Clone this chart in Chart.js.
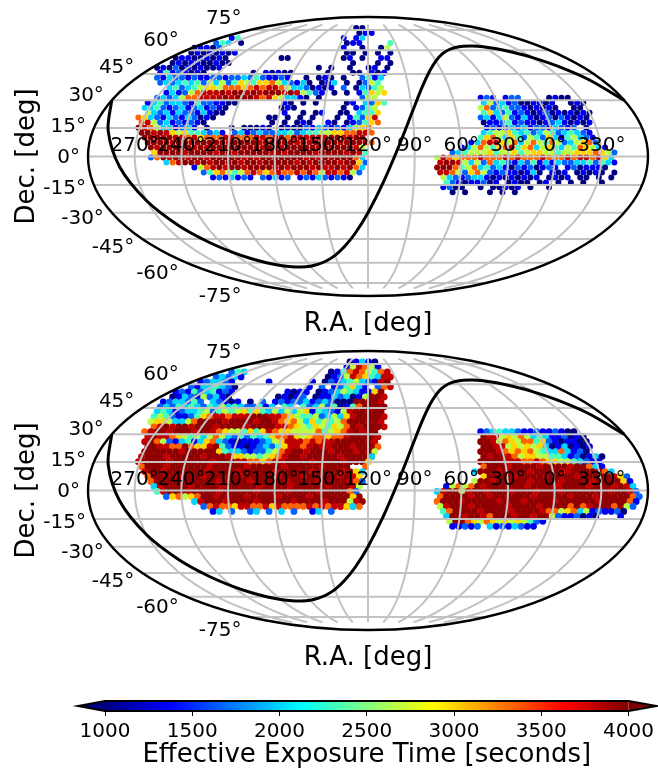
<!DOCTYPE html>
<html>
<head>
<meta charset="utf-8">
<style>
body { margin: 0; background: #fff; width: 658px; height: 771px; overflow: hidden; }
canvas { position: absolute; left: 0; }
</style>
<script src="https://cdn.jsdelivr.net/npm/chart.js@4"></script>
</head>
<body>
<canvas id="mapTop" width="658" height="340" style="top:0"></canvas>
<canvas id="mapBottom" width="658" height="340" style="top:334px"></canvas>
<canvas id="colorBar" width="658" height="91" style="top:680px"></canvas>
<script>
const raTicks = [270, 240, 210, 180, 150, 120, 90, 60, 30, 0, 330];
const decTicks = [75, 60, 45, 30, 15, 0, -15, -30, -45, -60, -75];
const barTicks = [1000, 1500, 2000, 2500, 3000, 3500, 4000];

// galactic plane read along the map, R.A. then Dec.
const planeRa = [300, 290, 280, 270, 260, 250, 240, 230, 220, 210, 200, 190, 180, 170, 160, 150, 140, 130, 120, 110, 100, 90, 80, 70, 60, 50, 40, 30, 20, 10, 0, -10, -20, -30, -40, -50, -60];
const planeDec = [29.9, 13.6, -5.6, -23.5, -37.2, -46.6, -53, -57.3, -60.1, -61.8, -62.7, -62.9, -62.3, -60.9, -58.6, -55.1, -49.7, -41.7, -29.9, -13.6, 5.6, 23.5, 37.2, 46.6, 53, 57.3, 60.1, 61.8, 62.7, 62.9, 62.3, 60.9, 58.6, 55.1, 49.7, 41.7, 29.9];

// exposure maps: one string per map row, "column:levels", level is an index in exposureLevels
const exposureLevels = [1000, 1333, 1667, 2000, 2333, 2667, 3000, 3333, 3800, 3950];
const rowLat = [82.9, 79.7, 76.5, 73.3, 70.1, 66.9, 63.6, 60.4, 57.2, 54, 50.8, 47.6, 44.4, 41.1, 37.9, 34.7, 31.5, 28.3, 25.1, 21.9, 18.6, 15.4, 12.2, 9, 5.8, 2.6, -0.6, -3.9, -7.1, -10.3, -13.5, -16.7, -19.9, -23.1];

const topRows = [
	"35:00",
	"35:011",
	"15:14 33:1 35:13",
	"12:243 16:0 33:01 35:1 40:4",
	"9:01102 33:1 36:0 39:0 40:5",
	"8:01010101 33:00 36:0 38:0 40:0",
	"6:011001010 23:00 33:01 36:0 39:1 40:1",
	"5:0101100100 34:0 38:0 40:0",
	"3:01020101001 29:0 31:0 34:0 37:01 40:0",
	"3:14121010 18:0 20:10 22:10 24:0 30:0 34:00 37:102 39:1",
	"3:2 4:132 7:21 9:2112 13:2 14:1 15:2 16:23 18:24 20:213 22:12 24:1 27:0 29:01 31:0 33:0 36:24 38:13",
	"3:232 6:34 8:3425 12:352 15:46 17:5 18:46 20:67 22:532 25:13 27:0 29:01 31:3 33:0 35:0 36:25 38:4",
	"5:3423 9:45 11:66 13:577 16:76 18:7878 22:87 24:53 26:32 28:01 30:0 31:1 33:2 35:0 36:3 37:24 39:5",
	"4:1312 8:5788 12:8989 16:9898 20:9998 24:9 25:85 27:42 29:1 31:0 33:0 35:1 36:46 38:56",
	"3:2323 7:5778 11:88 13:8989 17:9987 21:86 23:53 25:31 27:0 29:0 36:25 38:5 55:12 57:1 59:12 61:2 66:01 68:00",
	"1:1 2:34 4:233 7:2142 11:21 13:10 15:0 23:10 26:0 28:0 33:01 36:325 38:64 55:35 57:23 59:120 62:01 64:1 65:01 69:010",
	"1:3 2:3421 6:231 9:23 11:12 13:1 14:0 23:01 25:0 33:0 35:1 36:246 38:5 55:572 58:342 61:21 63:01 65:0 66:10 70:00",
	"1:5 2:3 3:23 5:132 8:213 11:10 13:0 23:1 26:0 28:0 29:1 32:0 33:0 35:34 37:46 55:463 58:24 60:121 63:0 64:12 66:0 67:1 68:0 69:1 70:010",
	"0:7 1:63 3:2 4:13 6:21 8:32 10:01 12:0 21:0 22:0 24:0 26:0 28:0 32:0 34:14 36:25 37:68 55:231 58:35 60:213 63:10 65:12 67:021 70:0 71:10",
	"0:78 2:52 4:3 5:12 7:1 8:21 10:0 21:0 23:0 25:01 27:0 30:10 33:01 35:2 36:46 38:7 55:012 57:1 58:24 60:121 63:1 64:0 65:1 66:23 68:101 71:01",
	"0:9 1:87 3:53 5:31 7:23 9:1 11:0 15:0 17:00 19:01 21:0 23:010 26:02 28:13 30:21 32:21 34:3 35:56 37:7 56:12 58:1 59:23 61:2 62:3 63:12 65:21 67:32 69:1 70:2 72:0",
	"0:9 1:989 4:86 6:5 7:64 9:43 11:23 13:1 15:23 17:12 19:32 21:23 23:3 24:42 26:34 28:45 30:56 32:67 34:78 36:87 55:3 56:45 58:5 59:64 61:3 62:42 64:35 66:42 68:3 69:43 71:2 72:1",
	"1:99 3:98 5:98 7:87 9:86 11:77 13:78 15:87 17:77 19:88 21:78 23:8 24:78 26:88 28:88 30:89 32:98 34:89 36:8 55:4 56:67 58:53 60:6 61:42 63:5 64:4 65:26 67:31 69:4 70:5 71:32 73:1",
	"1:9 2:9998 6:9989 10:9999 14:8999 18:9899 22:9998 26:9899 30:9989 34:9 35:987 53:1 54:3 55:788 58:6 59:57 61:3 62:5 63:75 65:4 66:7 67:52 69:35 71:67 73:2",
	"2:9899 6:9998 10:9899 14:9999 18:9989 22:9899 26:9998 30:9899 34:985 52:1 53:3 54:57 56:54 58:6 59:78 61:4 62:67 64:35 66:64 68:3 69:54 71:76 73:53 75:1",
	"2:6 3:999 6:9899 10:9989 14:9899 18:9998 22:9899 26:9989 30:9998 34:984 50:2 51:3 52:45 54:55 56:64 58:5 59:56 61:4 62:56 64:65 66:5 67:45 69:56 71:6 72:67 74:65 76:2",
	"2:2 3:798 6:9989 10:9899 14:9998 18:9899 22:9999 26:9898 30:9899 34:973 48:5 49:87 51:6 52:77 54:78 56:77 58:78 60:78 62:77 64:78 66:77 68:78 70:78 72:87 74:86 76:3",
	"4:3 5:7 6:89 8:98 10:9899 14:9989 18:9899 22:9998 26:9899 30:9989 34:962 48:89 50:98 52:5 53:3 54:52 56:73 58:42 60:13 62:24 64:1 65:31 67:32 69:23 71:34 73:2 74:43 76:1",
	"9:1 10:57 12:8 13:98 15:9989 19:9998 23:9899 27:9898 31:8989 35:73 48:99 50:97 52:4 53:57 55:34 57:2 58:31 60:02 62:1 63:2 64:01 66:2 67:1 69:1 70:2 71:01 73:1 74:10",
	"10:24 12:675 15:4 16:5787 20:6787 24:7 25:8787 29:5 30:8878 34:52 48:88 50:75 52:2 53:67 55:52 57:1 58:21 60:1 61:0 62:1 63:3 64:0 66:1 67:0 68:1 70:0 71:1 72:01 74:0 76:0",
	"12:12 14:13 16:121 20:213 23:12 26:1 27:2 28:13 30:2 31:12 33:10 49:53 51:2 52:1 53:23 55:31 57:0 58:1 59:01 61:0 62:1 63:0 64:1 66:01 68:0 69:1 71:0 72:0 74:0 76:0",
	"49:4 50:2 51:1 52:01 54:12 56:0 57:1 59:0 60:10 62:0 64:0 65:1 67:0 69:0 71:0 74:0",
	"49:1 50:2 51:0 52:0 55:0 57:0 58:01 60:0 61:1 63:0 66:0",
	"50:0 52:0 56:0 58:0 60:0"
];

const bottomRows = [
	"34:01 36:3 37:10",
	"33:1 34:5 35:87 37:51",
	"15:243 31:0 32:1 33:4 34:78 36:7 37:54 39:78",
	"12:23 14:23 16:1 30:01 32:2 33:58 35:76 37:43 39:88",
	"10:1 11:23 13:32 15:1 21:1 28:1 30:021 33:3 34:45 36:321 39:89",
	"8:2 9:13 11:3 12:43 14:2 15:0 27:1 29:2 31:1 32:2 33:46 35:3 36:1 38:2 39:78",
	"6:1 7:2 8:14 10:23 12:412 15:1 24:1 25:01 27:1 29:012 32:3 33:5 34:4 35:3 36:1 37:12 38:6 39:9",
	"5:0 6:13 8:2 9:15 11:2 12:31 14:0 22:0 23:10 25:1 26:2 28:01 30:1 31:3 32:2 33:3 34:0 35:1 36:5 37:9 38:9 39:8",
	"4:1 5:23 7:32 9:4 10:2 12:3 13:21 15:0 16:1 18:0 20:2 22:12 24:12 26:23 28:1 29:2 30:32 32:0 33:0 34:0 35:9 36:999 39:8",
	"3:2 4:3 5:24 7:34 9:3 10:24 12:35 14:3 15:4 16:32 18:24 20:1 21:3 23:4 24:3 26:42 28:3 29:5 30:24 32:0 33:1 34:4 35:7 36:9999",
	"3:3 4:43 6:12 8:3 9:3 10:45 12:2 13:4 14:5 15:4 16:56 18:46 20:43 22:5 23:3 24:5 25:3 26:56 28:1 29:43 31:2 32:1 33:5 34:8 35:99 37:99 39:9",
	"2:4 3:5 4:4 5:21 7:12 9:45 10:6 11:78 13:87 15:88 17:89 19:99 21:88 23:76 25:54 27:45 29:2 30:35 32:3 33:6 34:89 36:999 39:8",
	"2:5 3:66 5:54 6:32 7:3 8:56 9:78 10:99 12:99 14:89 16:99 18:98 20:99 22:87 24:6 25:75 27:36 29:45 31:4 32:5 33:7 34:99 36:99 38:9 39:8",
	"2:7 3:89 5:89 7:98 9:99 11:98 13:99 15:99 17:89 19:99 21:98 23:8 24:76 26:54 28:65 30:46 32:5 33:7 34:98 36:99 38:98",
	"1:7 2:89 4:98 6:99 8:98 10:99 12:87 14:65 16:54 18:64 20:6 21:87 23:6 24:65 26:55 28:57 30:45 32:6 33:7 34:89 36:89 38:9 55:1 56:2 57:3 58:4 59:33 61:2 62:1 63:12 65:1 66:12 68:1 69:0 70:0",
	"1:8 2:98 4:87 6:65 8:45 10:3 11:56 12:76 13:54 14:34 15:23 16:43 17:23 18:45 19:32 20:43 21:6 22:77 24:86 26:56 28:77 30:67 32:78 34:99 36:99 38:8 55:98 57:8 58:5 59:65 61:7 62:5 63:34 65:31 67:12 69:01 71:0",
	"1:8 2:97 4:5 5:21 7:34 9:1 10:3 11:6 12:75 13:3 14:21 15:10 16:01 17:1 18:12 19:1 20:23 21:3 22:5 23:68 25:88 27:78 29:78 31:89 33:99 35:99 37:98 55:99 57:8 58:5 59:76 61:5 62:77 64:4 65:6 66:21 68:01 70:10 72:0",
	"1:9 2:98 4:87 6:79 8:76 10:6 11:8 12:97 13:4 14:21 15:10 16:1 17:01 18:1 19:21 20:3 21:2 22:4 23:6 24:88 26:78 28:98 30:89 32:99 34:89 36:99 38:7 55:9 56:98 58:85 60:6 61:56 63:5 64:6 65:3 66:0 67:1 68:3 69:0 70:1 71:01",
	"1:9 2:99 4:99 6:98 8:99 10:99 12:98 13:6 14:43 16:32 18:12 20:24 22:5 23:7 24:89 26:98 28:99 30:98 32:99 34:98 36:99 38:5 55:9 56:99 58:87 60:6 61:76 63:75 65:43 67:3 68:7 69:3 70:1 71:2 72:0",
	"0:8 1:99 3:98 5:99 7:99 9:98 11:99 13:99 14:86 16:65 18:54 20:56 22:7 23:8 24:99 26:89 28:99 30:99 32:89 34:99 36:98 37:3 55:9 56:89 58:98 60:7 61:56 63:6 64:5 65:54 67:43 69:1 70:2 71:0 72:13 74:0",
	"0:8 1:99 3:99 5:89 7:99 9:99 11:98 13:99 15:98 17:87 19:76 21:78 23:89 25:99 27:98 29:99 31:99 33:89 35:99 37:6 55:9 56:99 58:98 60:88 62:7 63:78 65:76 67:65 69:5 70:4 71:3 72:2 73:1 74:1",
	"0:7 1:999899999989999989999989999989999 36:7 55:7 56:9998999989999899 72:7 73:3 74:1",
	"1:8 2:99899999989999899999899999899998 34:96 36:3 54:3 55:99989999899998899999 75:7 76:3",
	"1:7 2:9999899989999989999989998999998 33:98 35:6 55:6 56:9999899998999989999 75:98 77:6 78:2",
	"2:7 3:999989999989999899999899998999 33:987 36:2 54:5 55:99899999899998999989 75:999 78:6 79:1",
	"2:3 3:899998999989999989999899999899 33:985 49:1 50:575 53:7 54:9899999989999899998 73:9998 77:98 79:3",
	"3:4 4:89998999989999989999899998999 33:97 35:2 48:3 49:89987 52:5 53:8 54:9989998999899989999 73:99989 78:98 80:2",
	"4:2 5:6 6:7 7:5 8:6 9:7 10:99899998999989999899999899 33:96 48:7 49:999989 55:9899999989999989 71:9989999 78:97 80:2",
	"9:3 10:8 11:99989999899999899998999989 33:95 48:7 49:999899 55:9998999899998999 71:9998999 78:97 80:1",
	"10:2 11:7 12:877688778687777878787877 32:86 34:3 48:5 49:899989 55:9999899998999979 71:7899979 78:52",
	"12:13 15:2 18:23 21:2 23:3 25:2 28:13 31:2 49:4 50:79999 55:8999989999 65:8 66:7 67:7 68:5 69:67 71:3 72:51 74:21 76:1 77:2 78:0",
	"49:3 50:99899 55:8799989989 65:9 66:5 67:21 69:12 71:01 73:0 77:1",
	"50:5 51:997 54:6 55:5 56:7 57:656 60:565 63:4 64:2 65:1",
	"50:1 51:12 53:1 54:2 56:31 58:2 59:13 61:21 63:1"
];

const font = "'DejaVu Sans'";
const gridColor = "#c2c2c2";

function jet(v) {
	const t = Math.min(1, Math.max(0, (v - 1000) / 3000));
	const c = f => Math.round(255 * Math.min(1, Math.max(0, f)));
	return "rgb(" + c(Math.min(4 * t - 1.5, -4 * t + 4.5)) + "," + c(Math.min(4 * t - 0.5, -4 * t + 3.5)) + "," + c(Math.min(4 * t + 0.5, -4 * t + 2.5)) + ")";
}

// mollweide, returns map units: x -180..180, y -90..90, centred on R.A. 120
function project(ra, dec) {
	const lat = dec * Math.PI / 180;
	let th = lat;
	for (let i = 0; i < 60; i++) {
		const d = 2 * Math.cos(2 * th) + 2;
		if (d < 1e-6) break;
		th -= (2 * th + Math.sin(2 * th) - Math.PI * Math.sin(lat)) / d;
	}
	return { x: -(ra - 120) * Math.cos(th), y: 90 * Math.sin(th) };
}

function rowsToPoints(rows) {
	const pts = [];
	rows.forEach((row, k) => {
		row.split(" ").forEach(tok => {
			const parts = tok.split(":");
			for (let j = 0; j < parts[1].length; j++) {
				// odd rows sit half a column over
				pts.push({ x: -147.6 + (Number(parts[0]) + j) * 4 + (k % 2) * 2, y: rowLat[k], v: exposureLevels[Number(parts[1][j])] });
			}
		});
	});
	return pts;
}

function tracePath(ctx, chart, pts) {
	const sx = chart.scales.x, sy = chart.scales.y;
	pts.forEach((p, i) => {
		const px = sx.getPixelForValue(p.x), py = sy.getPixelForValue(p.y);
		if (i === 0) ctx.moveTo(px, py); else ctx.lineTo(px, py);
	});
}

const graticulePlugin = {
	id: "graticule",
	afterDatasetDraw(chart, args) {
		if (args.index !== 1) return;
		const ctx = chart.ctx;
		ctx.save();
		ctx.strokeStyle = gridColor;
		ctx.lineWidth = 2;
		raTicks.forEach(ra => {
			const line = [];
			for (let d = -80; d <= 80; d += 4) line.push(project(ra > 300 ? ra - 360 : ra, d));
			ctx.beginPath();
			tracePath(ctx, chart, line);
			ctx.stroke();
		});
		decTicks.forEach(dec => {
			ctx.beginPath();
			tracePath(ctx, chart, [project(300, dec), project(-60, dec)]);
			ctx.stroke();
		});
		ctx.restore();
	},
	afterDatasetsDraw(chart) {
		const ctx = chart.ctx, sx = chart.scales.x, sy = chart.scales.y;
		const a = chart.chartArea;
		ctx.save();
		ctx.strokeStyle = "#000";
		ctx.lineWidth = 2.4;
		ctx.beginPath();
		ctx.ellipse((a.left + a.right) / 2, (a.top + a.bottom) / 2, (a.right - a.left) / 2, (a.bottom - a.top) / 2, 0, 0, Math.PI * 2);
		ctx.stroke();
		ctx.fillStyle = "#000";
		ctx.font = "20px " + font;
		ctx.textAlign = "center";
		ctx.textBaseline = "alphabetic";
		raTicks.forEach(ra => {
			const p = project(ra > 300 ? ra - 360 : ra, 0);
			ctx.fillText(ra + "°", sx.getPixelForValue(p.x), sy.getPixelForValue(p.y) - 6);
		});
		ctx.textAlign = "right";
		ctx.textBaseline = "middle";
		decTicks.forEach(dec => {
			const p = project(300, dec);
			ctx.fillText(dec + "°", sx.getPixelForValue(p.x) - 8, sy.getPixelForValue(p.y) - dec / 6 + 1);
		});
		ctx.restore();
	}
};

function makeMap(id, rows, radius) {
	const pts = rowsToPoints(rows);
	const plane = planeRa.map((ra, i) => project(ra, planeDec[i]));
	new Chart(document.getElementById(id), {
		type: "scatter",
		data: {
			datasets: [{
				data: plane,
				showLine: true,
				borderColor: "#000",
				borderWidth: 3,
				pointRadius: 0,
				tension: 0.3
			}, {
				data: pts,
				pointRadius: radius,
				borderWidth: 0,
				backgroundColor: pts.map(p => jet(p.v))
			}]
		},
		options: {
			responsive: false,
			animation: false,
			layout: { padding: { top: 17, right: 10 } },
			scales: {
				x: {
					min: -180, max: 180,
					grid: { display: false },
					border: { display: false },
					ticks: { display: false },
					title: { display: true, text: "R.A. [deg]", color: "#000", font: { family: font, size: 26 }, padding: { top: 12, bottom: 0 } },
					afterFit: s => { s.height = 44; }
				},
				y: {
					min: -90, max: 90,
					grid: { display: false },
					border: { display: false },
					ticks: { display: false },
					title: { display: true, text: "Dec. [deg]", color: "#000", font: { family: font, size: 26 }, padding: { top: 12, bottom: 0 } },
					afterFit: s => { s.width = 88; }
				}
			},
			plugins: { legend: { display: false }, tooltip: { enabled: false } }
		},
		plugins: [graticulePlugin]
	});
}

makeMap("mapTop", topRows, 3);
makeMap("mapBottom", bottomRows, 3.4);

// colour bar with the two extend arrows
const arrowPlugin = {
	id: "arrows",
	afterDatasetsDraw(chart) {
		const ctx = chart.ctx, a = chart.chartArea;
		const mid = (a.top + a.bottom) / 2;
		ctx.save();
		ctx.fillStyle = "#00007f";
		ctx.beginPath(); ctx.moveTo(a.left, a.top); ctx.lineTo(78, mid); ctx.lineTo(a.left, a.bottom); ctx.closePath(); ctx.fill();
		ctx.fillStyle = "#7f0000";
		ctx.beginPath(); ctx.moveTo(a.right, a.top); ctx.lineTo(657, mid); ctx.lineTo(a.right, a.bottom); ctx.closePath(); ctx.fill();
		ctx.strokeStyle = "#000";
		ctx.lineWidth = 2;
		ctx.beginPath();
		ctx.moveTo(a.left, a.top); ctx.lineTo(a.right, a.top); ctx.lineTo(657, mid); ctx.lineTo(a.right, a.bottom);
		ctx.lineTo(a.left, a.bottom); ctx.lineTo(78, mid); ctx.closePath();
		ctx.stroke();
		ctx.restore();
	}
};

new Chart(document.getElementById("colorBar"), {
	type: "bar",
	data: {
		labels: ["exposure"],
		datasets: [{
			data: [[barTicks[0], barTicks[barTicks.length - 1]]],
			barPercentage: 1,
			categoryPercentage: 1,
			backgroundColor: function (c) {
				const a = c.chart.chartArea;
				if (!a) return "#000";
				const g = c.chart.ctx.createLinearGradient(a.left, 0, a.right, 0);
				[0, 0.11, 0.125, 0.375, 0.5, 0.625, 0.875, 0.89, 1].forEach(t => g.addColorStop(t, jet(1000 + 3000 * t)));
				return g;
			}
		}]
	},
	options: {
		indexAxis: "y",
		responsive: false,
		animation: false,
		layout: { padding: { left: 105, right: 27, top: 21 } },
		scales: {
			x: {
				type: "linear",
				min: 1000, max: 4000,
				afterBuildTicks: s => { s.ticks = barTicks.map(v => ({ value: v })); },
				grid: { display: true, drawOnChartArea: false, drawTicks: true, tickLength: 5, color: "#000" },
				border: { display: false },
				ticks: { color: "#000", font: { family: font, size: 20 }, maxRotation: 0, padding: 4, callback: v => String(v) },
				title: { display: true, text: "Effective Exposure Time [seconds]", color: "#000", font: { family: font, size: 26 }, padding: { top: -1.6, bottom: 0 } },
				afterFit: s => { s.height = 60; }
			},
			y: { display: false }
		},
		plugins: { legend: { display: false }, tooltip: { enabled: false } }
	},
	plugins: [arrowPlugin]
});
</script>
</body>
</html>
